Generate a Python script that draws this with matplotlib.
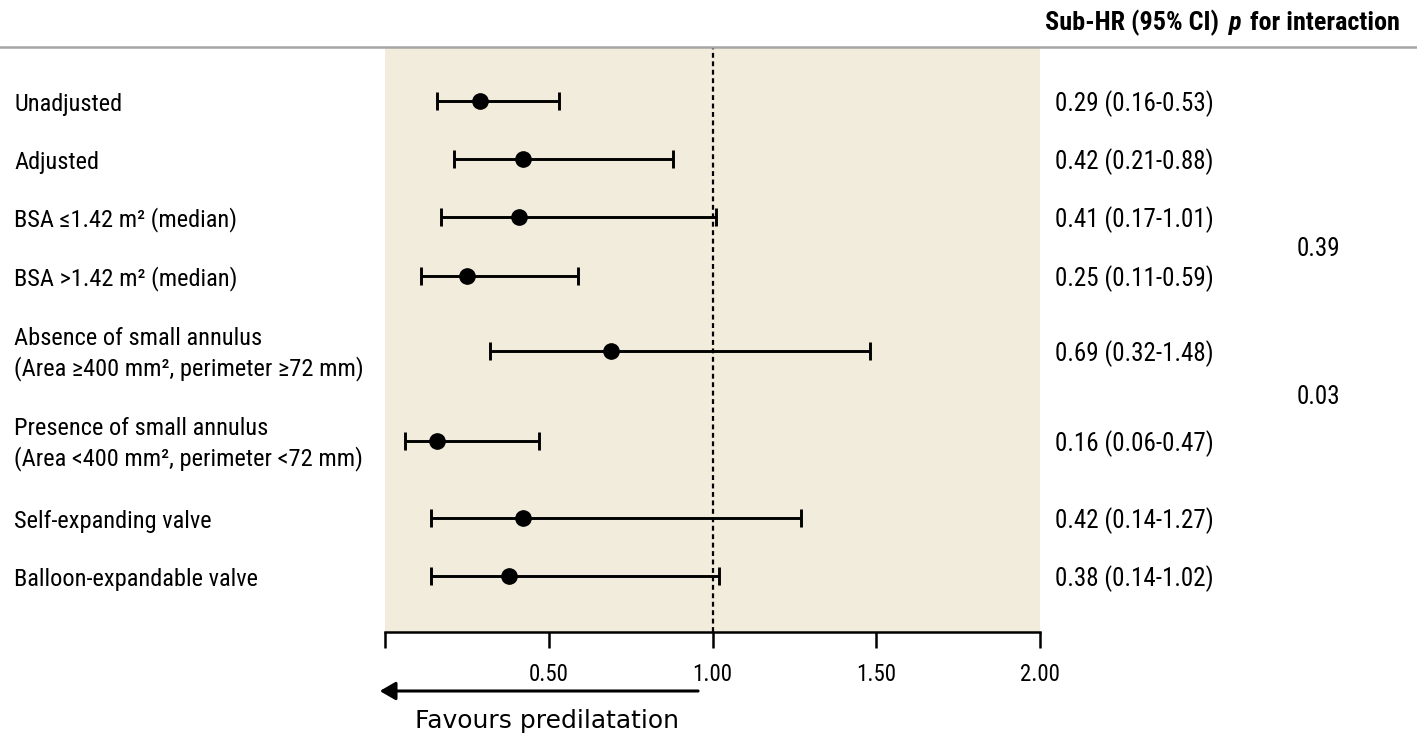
import matplotlib
matplotlib.use("Agg")
import matplotlib.pyplot as plt
from matplotlib import font_manager as fm
from matplotlib.transforms import blended_transform_factory

# ---------------- data ----------------
labels = [
    "Unadjusted",
    "Adjusted",
    "BSA \u22641.42 m\u00b2 (median)",
    "BSA >1.42 m\u00b2 (median)",
    "Absence of small annulus\n(Area \u2265400 mm\u00b2, perimeter \u226572 mm)",
    "Presence of small annulus\n(Area <400 mm\u00b2, perimeter <72 mm)",
    "Self-expanding valve",
    "Balloon-expandable valve",
]
hr = [0.29, 0.42, 0.41, 0.25, 0.69, 0.16, 0.42, 0.38]
ci_low = [0.16, 0.21, 0.17, 0.11, 0.32, 0.06, 0.14, 0.14]
ci_high = [0.53, 0.88, 1.01, 0.59, 1.48, 0.47, 1.27, 1.02]
p_interaction = ["0.39", "0.03"]
tick_values = [0.0, 0.5, 1.0, 1.5, 2.0]
tick_labels = ["", "0.50", "1.00", "1.50", "2.00"]

# ---------------- layout (pixel rows) ----------------
W, H = 1417, 744
row_y = [101, 159, 217, 276, 351, 441, 518, 576]
p_y = [247, 395]
text_dy = 3  # text sits slightly below the marker row

# ---------------- fonts ----------------
names = {f.name for f in fm.fontManager.ttflist}
cond_family = "DejaVu Sans"
cond_stretch = "condensed"
for cand in ["Roboto Condensed", "Liberation Sans Narrow", "DejaVu Sans Condensed",
             "Open Sans Condensed", "Noto Sans Condensed"]:
    if cand in names:
        cond_family = cand
        cond_stretch = "normal"
        break

def cf(size, weight="normal", style="normal"):
    return fm.FontProperties(family=cond_family, stretch=cond_stretch,
                             size=size, weight=weight, style=style)

fig = plt.figure(figsize=(W / 100, H / 100), dpi=100)
ax = fig.add_axes([385 / W, 1 - 632 / H, (1040 - 385) / W, (632 - 48) / H])
ax.set_facecolor("#f1ecdb")
ax.set_xlim(0, 2.0)
ax.set_ylim(632, 48)

for s in ["top", "left", "right"]:
    ax.spines[s].set_visible(False)
ax.spines["bottom"].set_linewidth(1.8)
ax.set_yticks([])
ax.set_xticks(tick_values)
ax.set_xticklabels(tick_labels, fontproperties=cf(16.5))
ax.tick_params(axis="x", direction="out", length=11.5, width=1.8, pad=11, colors="black")

# reference line
ax.axvline(1.0, color="black", linestyle=(0, (2.2, 1.6)), linewidth=1.6, zorder=2)

# error bars
xerr = [[h - l for h, l in zip(hr, ci_low)], [u - h for h, u in zip(hr, ci_high)]]
ax.errorbar(hr, row_y, xerr=xerr, fmt="o", color="black", ecolor="black",
            elinewidth=2.1, capsize=6.6, capthick=2.1, markersize=11, zorder=3)

# figure-coordinate helpers (x in pixels of figure, y in axes data)
trans = blended_transform_factory(fig.transFigure, ax.transData)

for lab, y in zip(labels, row_y):
    fig.text(14 / W, y + text_dy, lab, transform=trans, ha="left", va="center",
             fontproperties=cf(17.6), linespacing=1.32)

for h, l, u, y in zip(hr, ci_low, ci_high, row_y):
    fig.text(1055 / W, y + text_dy, f"{h:.2f} ({l:.2f}-{u:.2f})", transform=trans,
             ha="left", va="center", fontproperties=cf(18))

for p, y in zip(p_interaction, p_y):
    fig.text(1318 / W, y + 2, p, transform=trans, ha="center", va="center",
             fontproperties=cf(18))

# header
hy = 1 - 23 / H
fig.text(1045 / W, hy, "Sub-HR (95% CI)", ha="left", va="center",
         fontproperties=cf(18.8, weight="bold"))
fig.text(1229 / W, hy, "p", ha="left", va="center",
         fontproperties=cf(18.8, weight="bold", style="italic"))
fig.text(1250 / W, hy, "for interaction", ha="left", va="center",
         fontproperties=cf(18.8, weight="bold"))
fig.add_artist(plt.Line2D([0, 1], [1 - 47 / H, 1 - 47 / H], transform=fig.transFigure,
                          color="#a6a6a6", linewidth=1.8))

# favours arrow
atrans = blended_transform_factory(ax.transData, fig.transFigure)
ax.annotate("", xy=(-0.016, 1 - 691 / H), xytext=(0.956, 1 - 691 / H),
            xycoords=atrans, textcoords=atrans, annotation_clip=False,
            arrowprops=dict(arrowstyle="-|>,head_length=0.95,head_width=0.55",
                            color="black", linewidth=2.2, shrinkA=0, shrinkB=0))
fig.text(415 / W, 1 - 721 / H, "Favours predilatation", ha="left", va="center",
         fontsize=18, family="DejaVu Sans")

fig.savefig("out.png", dpi=100)
